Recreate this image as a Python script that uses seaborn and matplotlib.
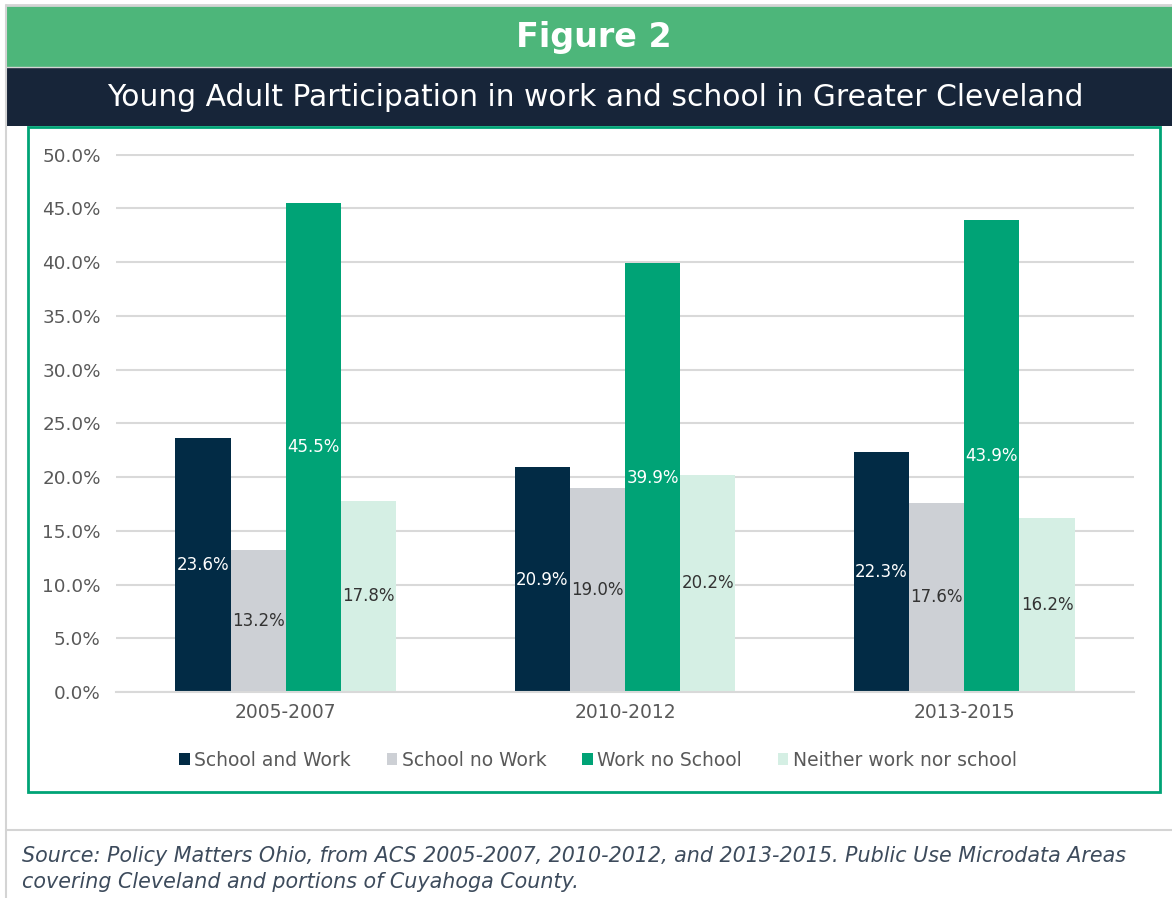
import pandas as pd
import seaborn as sns
import matplotlib
matplotlib.use('Agg')
import matplotlib.pyplot as plt
from matplotlib.patches import Rectangle
from matplotlib.lines import Line2D

# data
periods = ['2005-2007', '2010-2012', '2013-2015']
categories = ['School and Work', 'School no Work', 'Work no School', 'Neither work nor school']
school_and_work = [23.6, 20.9, 22.3]
school_no_work = [13.2, 19.0, 17.6]
work_no_school = [45.5, 39.9, 43.9]
neither = [17.8, 20.2, 16.2]
y_ticks = [0, 5, 10, 15, 20, 25, 30, 35, 40, 45, 50]

colors = ['#022b45', '#cdd0d5', '#00a376', '#d5efe4']
label_colors = ['white', '#333333', 'white', '#333333']

rows = []
for cat, vals in zip(categories, [school_and_work, school_no_work, work_no_school, neither]):
    for p, v in zip(periods, vals):
        rows.append({'period': p, 'category': cat, 'value': v})
df = pd.DataFrame(rows)

sns.set_style('white')
plt.rcParams['font.family'] = ['DejaVu Sans']

W, H = 1172, 898
fig = plt.figure(figsize=(W / 100, H / 100), dpi=100)

def fx(px):
    return px / W

def fy(py):
    return 1 - py / H

# header bands and frames
fig.patches.append(Rectangle((fx(6), fy(67)), fx(1172 - 6), 62 / H, transform=fig.transFigure,
                             facecolor='#4db67a', edgecolor='none', zorder=0))
fig.patches.append(Rectangle((fx(6), fy(126)), fx(1172 - 6), 58 / H, transform=fig.transFigure,
                             facecolor='#172539', edgecolor='none', zorder=0))
fig.lines.append(Line2D([fx(6), fx(1172)], [fy(5), fy(5)], transform=fig.transFigure, color='#d4d4d4', lw=2))
fig.lines.append(Line2D([fx(6), fx(1172)], [fy(67), fy(67)], transform=fig.transFigure, color='#d4d4d4', lw=1))
fig.lines.append(Line2D([fx(6), fx(6)], [fy(5), fy(898)], transform=fig.transFigure, color='#d4d4d4', lw=1.5))
fig.lines.append(Line2D([fx(6), fx(1172)], [fy(830), fy(830)], transform=fig.transFigure, color='#d4d4d4', lw=1.5))
fig.patches.append(Rectangle((fx(28), fy(792)), fx(1160 - 28), 665 / H, transform=fig.transFigure,
                             facecolor='none', edgecolor='#00a376', lw=2, zorder=1))

fig.text(fx(594), fy(38), 'Figure 2', color='white', fontsize=24, fontweight='bold',
         ha='center', va='center')
fig.text(fx(595), fy(97), 'Young Adult Participation in work and school in Greater Cleveland',
         color='white', fontsize=21.4, ha='center', va='center')

ax = fig.add_axes([fx(116), fy(692), fx(1134 - 116), (692 - 154) / H])
sns.barplot(data=df, x='period', y='value', hue='category', palette=colors,
            width=0.65, gap=0, saturation=1, linewidth=0, ax=ax, legend=False)

for container, lc in zip(ax.containers, label_colors):
    ax.bar_label(container, labels=[f'{v:.1f}%' for v in container.datavalues],
                 label_type='center', color=lc, fontsize=12)

ax.set_ylim(0, 50.05)
ax.set_xlim(-0.5, 2.5)
ax.set_yticks(y_ticks)
ax.set_yticklabels([f'{t:.1f}%' for t in y_ticks])
ax.yaxis.grid(True, color='#d9d9d9', lw=1.5)
ax.set_axisbelow(True)
ax.tick_params(axis='both', length=0, labelsize=13.5, labelcolor='#595959')
ax.tick_params(axis='y', pad=11, labelsize=13.2)
ax.tick_params(axis='x', pad=8)
ax.set_xlabel('')
ax.set_ylabel('')
for s in ['top', 'right', 'left']:
    ax.spines[s].set_visible(False)
ax.spines['bottom'].set_color('#d9d9d9')
ax.spines['bottom'].set_linewidth(1.5)

handles = [Rectangle((0, 0), 1, 1, facecolor=c, edgecolor='none') for c in colors]
fig.legend(handles, categories, loc='center', bbox_to_anchor=(fx(598), fy(760)), ncol=4,
           frameon=False, fontsize=13.5, handlelength=0.55, handleheight=0.55, handletextpad=0.25,
           columnspacing=1.9, labelcolor='#595959')

fig.text(fx(22), fy(856), 'Source: Policy Matters Ohio, from ACS 2005-2007, 2010-2012, and 2013-2015. Public Use Microdata Areas',
         fontsize=14.85, style='italic', color='#3d4b5c', ha='left', va='center')
fig.text(fx(22), fy(882), 'covering Cleveland and portions of Cuyahoga County.',
         fontsize=14.85, style='italic', color='#3d4b5c', ha='left', va='center')

fig.savefig('out.png', dpi=100)
